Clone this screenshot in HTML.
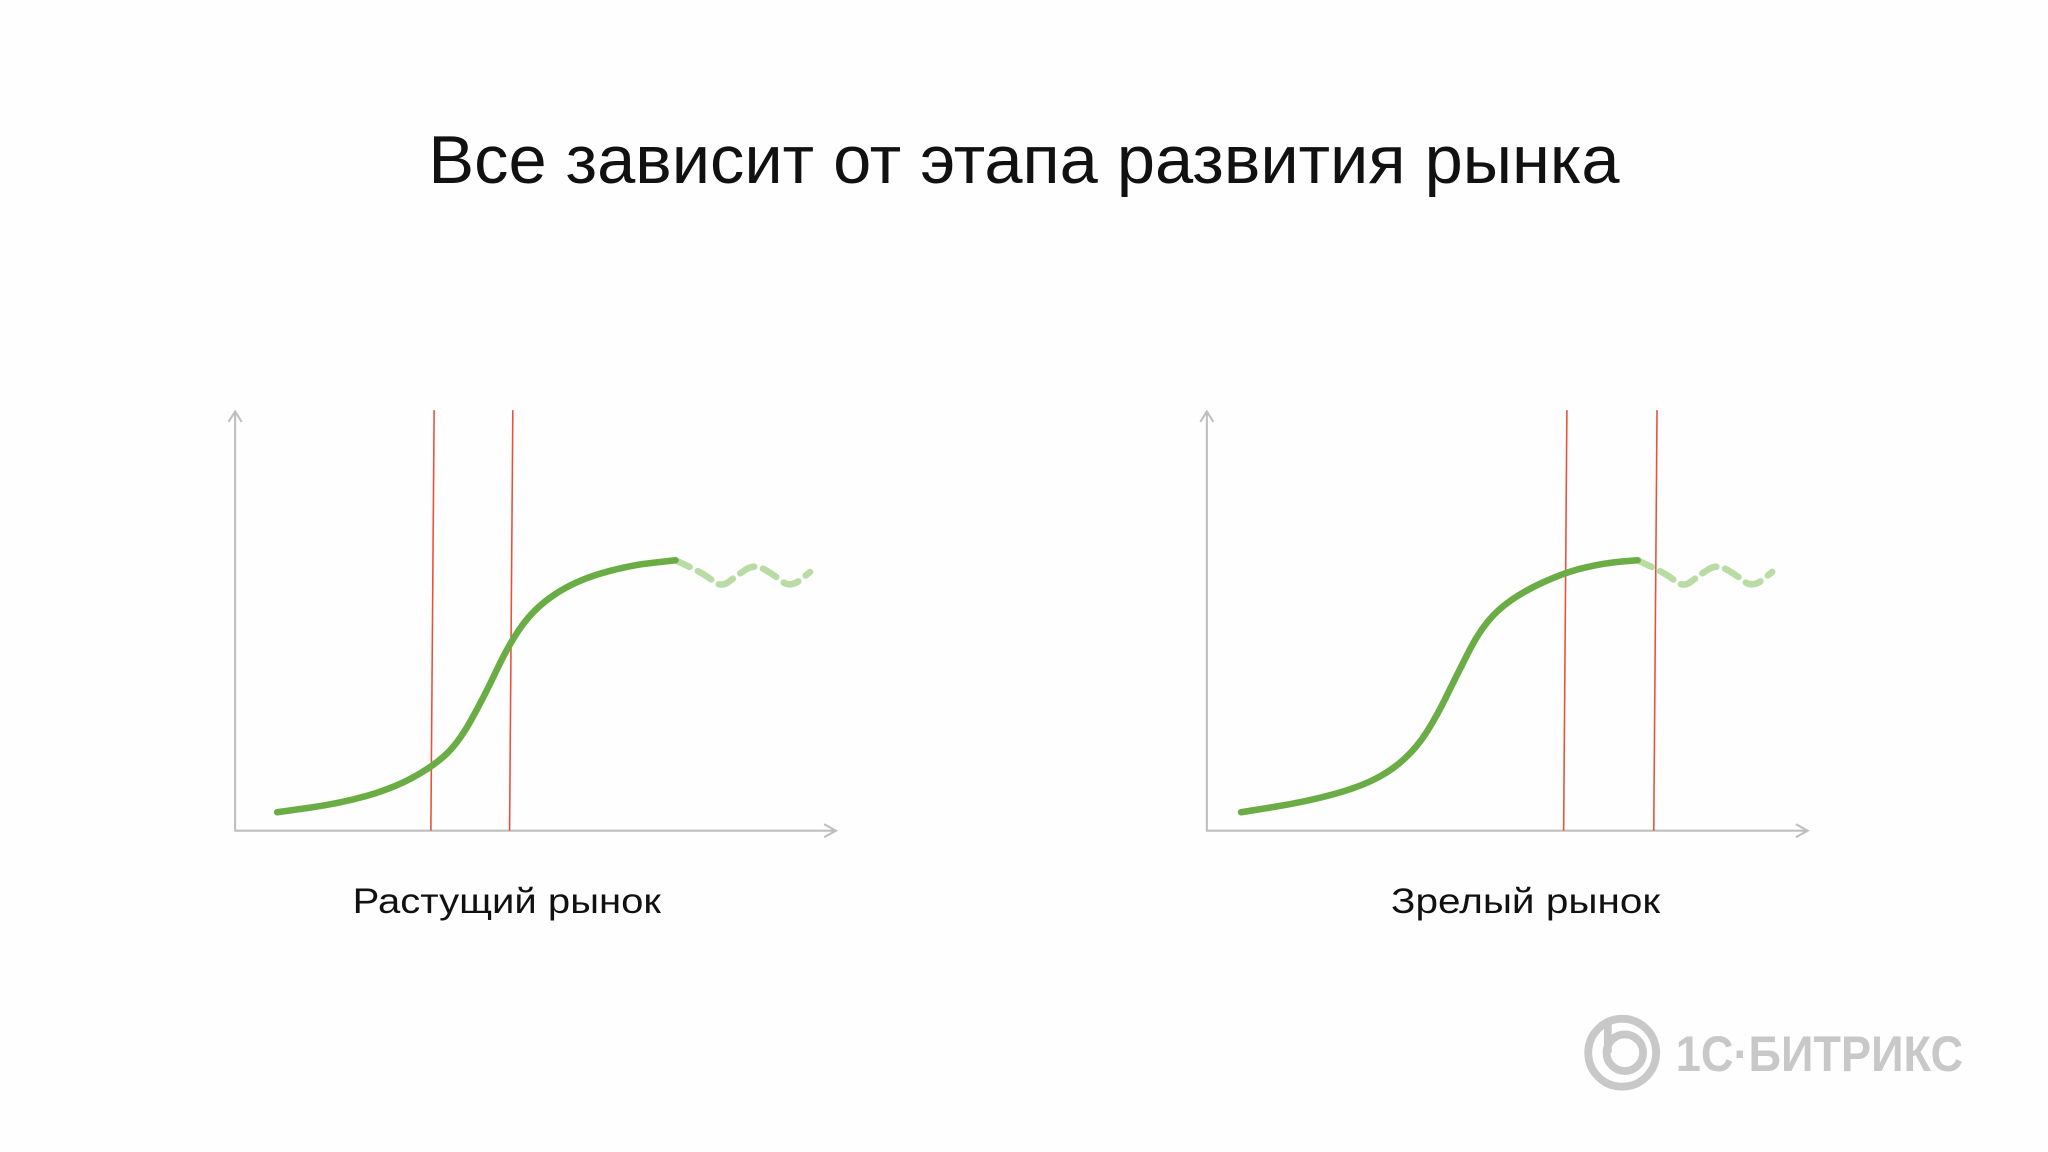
<!DOCTYPE html>
<html><head><meta charset="utf-8">
<style>
html,body{margin:0;padding:0;background:#fff;}
svg{display:block;}
</style></head>
<body>
<svg width="2048" height="1152" viewBox="0 0 1568 882" xmlns="http://www.w3.org/2000/svg">
<rect width="1568" height="882" fill="#fefefe"/>
<text x="784" y="140" text-anchor="middle" font-family="Liberation Sans, sans-serif" font-size="52" fill="#111" textLength="912" lengthAdjust="spacingAndGlyphs">Все зависит от этапа развития рынка</text>
<g id="c1"></g>
<g id="c2"></g>
<text x="388" y="699" text-anchor="middle" font-family="Liberation Sans, sans-serif" font-size="27" fill="#111" textLength="236" lengthAdjust="spacingAndGlyphs">Растущий рынок</text>
<text x="1168" y="699" text-anchor="middle" font-family="Liberation Sans, sans-serif" font-size="27" fill="#111" textLength="206" lengthAdjust="spacingAndGlyphs">Зрелый рынок</text>
<g>
<circle cx="1242" cy="806" r="26" fill="none" stroke="#c8c8c8" stroke-width="6"/>
<circle cx="1244" cy="806" r="14" fill="none" stroke="#c8c8c8" stroke-width="6"/>
<line x1="1231" y1="784" x2="1231" y2="806" stroke="#c8c8c8" stroke-width="6"/>
<text x="1283" y="820" font-family="Liberation Sans, sans-serif" font-weight="bold" font-size="38" fill="#c8c8c8" textLength="220" lengthAdjust="spacingAndGlyphs">1С·БИТРИКС</text>
</g>
</svg>
<script>
// growing market
const curveX1 = [7.0,17.4,26.1,32.6,37.0,41.3,45.7,50.0,56.5,65.2,73.3];
const curveY1 = [4.4,6.5,10.0,15.0,20.6,31.5,44.9,53.3,59.5,63.2,64.5];
const waveX1 = [73.3,78.3,80.9,83.7,86.5,89.6,92.4,95.7];
const waveY1 = [64.5,61.1,57.9,61.1,63.6,61.1,57.9,61.7];
const markers1 = [32.8,45.9];
// mature market
const curveX2 = [5.7,16.5,25.2,30.7,35.0,38.3,41.5,45.9,51.3,59.6,66.5,71.7];
const curveY2 = [4.4,6.9,10.3,14.3,19.9,27.4,36.8,49.2,56.1,61.7,63.9,64.5];
const waveX2 = [71.7,76.7,79.3,82.1,84.9,88.0,90.8,94.1];
const waveY2 = [64.5,61.1,57.9,61.1,63.6,61.1,57.9,61.7];
const markers2 = [59.6,74.6];

const NS='http://www.w3.org/2000/svg';
function mk(tag,attrs,parent){const e=document.createElementNS(NS,tag);for(const k in attrs)e.setAttribute(k,attrs[k]);parent.appendChild(e);return e;}
function draw(g,ox,cx,cy,wx,wy,marks){
  const sx=v=>ox+v*4.6, sy=v=>636-v*3.21;
  const ax=mk('path',{d:`M${ox} 316 L${ox} 636 L${ox+459} 636 M${ox-5} 323 L${ox} 315 L${ox+5} 323 M${ox+451} 631 L${ox+460} 636 L${ox+451} 641`,fill:'none',stroke:'#bfbfbf','stroke-width':1.6},g);
  
  
  marks.forEach(m=>{
    const l=mk('line',{x1:sx(m)+1.5,y1:314,x2:sx(m)-1,y2:636,stroke:'#e8503a','stroke-width':1.2},g);
    
    
  });
  function smooth(xs,ys){let d=`M${sx(xs[0])} ${sy(ys[0])}`;for(let i=1;i<xs.length;i++){const x0=sx(xs[i-1]),y0=sy(ys[i-1]),x1=sx(xs[i]),y1=sy(ys[i]);const mx=(x0+x1)/2;d+=` Q${x0} ${y0} ${mx} ${(y0+y1)/2}`;if(i===xs.length-1)d+=` T${x1} ${y1}`;}return d;}
  const w=mk('path',{d:smooth(wx,wy),fill:'none',stroke:'#b9dca5','stroke-width':5,'stroke-dasharray':'12 7','stroke-linecap':'round'},g);
  
  
  const c=mk('path',{d:smooth(cx,cy),fill:'none',stroke:'#6aad45','stroke-width':5,'stroke-linecap':'round'},g);
  
  
}
draw(document.getElementById('c1'),180,curveX1,curveY1,waveX1,waveY1,markers1);
draw(document.getElementById('c2'),924,curveX2,curveY2,waveX2,waveY2,markers2);
</script>
</body></html>
